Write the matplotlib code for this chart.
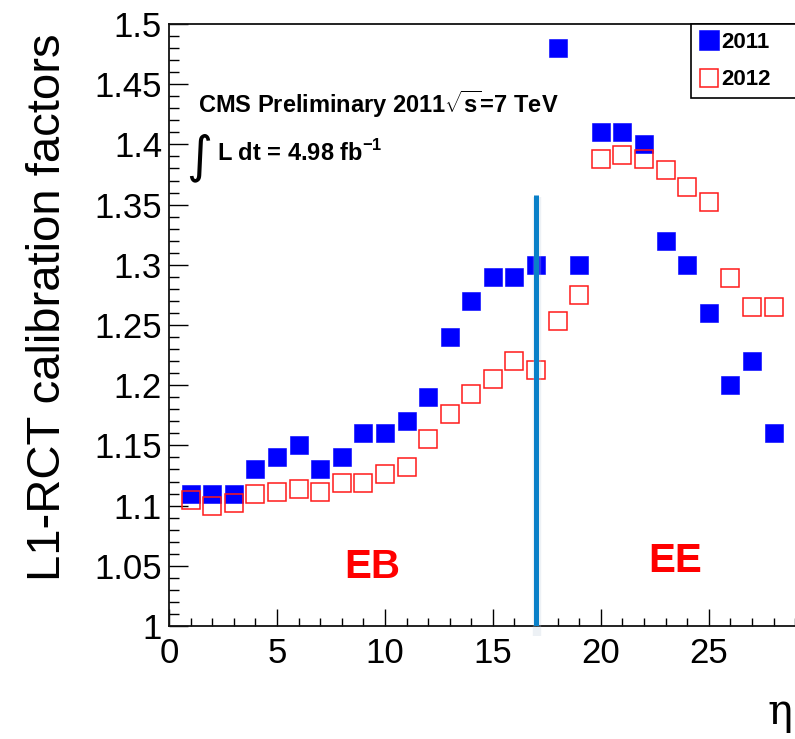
import matplotlib

matplotlib.use("Agg")

import matplotlib.pyplot as plt  # noqa: E402
from matplotlib.ticker import MultipleLocator, FormatStrFormatter  # noqa: E402

_W, _H, _DPI = 795, 739, 100
_BLUE = "#0000ff"
_RED = "#ff1a1a"
_LINE = "#0a80c8"

plt.rcParams["font.family"] = ["Liberation Sans", "DejaVu Sans"]
plt.rcParams["mathtext.fontset"] = "custom"
plt.rcParams["mathtext.rm"] = "Liberation Sans"
plt.rcParams["mathtext.bf"] = "Liberation Sans:bold"

# ieta bins
eta = list(range(1, 29))
calib_2011 = [1.11, 1.11, 1.11, 1.13, 1.14, 1.15, 1.13, 1.14, 1.16, 1.16,
              1.17, 1.19, 1.24, 1.27, 1.29, 1.29, 1.30, 1.48, 1.30, 1.41,
              1.41, 1.40, 1.32, 1.30, 1.26, 1.20, 1.22, 1.16]
calib_2012 = [1.105, 1.100, 1.102, 1.110, 1.111, 1.114, 1.111, 1.119, 1.119, 1.126,
              1.132, 1.155, 1.176, 1.193, 1.205, 1.220, 1.213, 1.253, 1.275, 1.388,
              1.391, 1.388, 1.379, 1.365, 1.352, 1.289, 1.265, 1.265]
eb_ee_boundary = 17
boundary_top = 1.358

fig = plt.figure(figsize=(_W / _DPI, _H / _DPI), dpi=_DPI)
ax = fig.add_axes([169 / _W, 113 / _H, 637 / _W, 602 / _H])

ax.plot(eta, calib_2011, ls="none", marker="s", ms=12.7, mfc=_BLUE, mec=_BLUE,
        mew=0.4, label="2011", zorder=3)
ax.plot(eta, calib_2012, ls="none", marker="s", ms=12.4, mfc="none", mec=_RED,
        mew=1.1, label="2012", zorder=4)

# EB / EE boundary with a faint shadow
ax.vlines(eb_ee_boundary + 0.06, 0.992, boundary_top - 0.002, colors="#b8c8d8",
          linewidth=6, alpha=0.25, zorder=4.5, clip_on=False)
ax.vlines(eb_ee_boundary, 1.0, boundary_top, colors=_LINE, linewidth=3.6,
          zorder=5)

ax.set_xlim(0, 29.5)
ax.set_ylim(1.0, 1.5)
ax.xaxis.set_major_locator(MultipleLocator(5))
ax.xaxis.set_minor_locator(MultipleLocator(1))
ax.yaxis.set_major_locator(MultipleLocator(0.05))
ax.yaxis.set_minor_locator(MultipleLocator(0.01))
ax.yaxis.set_major_formatter(FormatStrFormatter("%g"))

ax.tick_params(axis="both", which="both", direction="in", width=1.0,
               top=False, right=False, labelsize=25, colors="black")
ax.tick_params(axis="x", which="major", length=12, pad=8)
ax.tick_params(axis="x", which="minor", length=6)
ax.tick_params(axis="y", which="major", length=14, pad=5)
ax.tick_params(axis="y", which="minor", length=7)
for side in ax.spines.values():
    side.set_linewidth(1.3)
    side.set_color("#111111")

fig.text(48 / _W, 1 - 307 / _H, "L1-RCT calibration factors", rotation=90,
         ha="center", va="center", fontsize=34)
fig.text(792 / _W, 1 - 712 / _H, "η", ha="right", va="center", fontsize=30,
         family=["DejaVu Serif"])

fig.text(198 / _W, 1 - 104 / _H,
         r"CMS Preliminary 2011$\sqrt{\mathbf{s}}$=7 TeV",
         ha="left", va="center", fontsize=17, fontweight="bold")
fig.text(186 / _W, 1 - 158 / _H, "∫", ha="left", va="center", fontsize=36,
         family=["DejaVu Sans"])
fig.text(217 / _W, 1 - 153 / _H, r"L dt = 4.98 fb$^{\mathbf{-1}}$",
         ha="left", va="center", fontsize=17, fontweight="bold")

fig.text(372 / _W, 1 - 567 / _H, "EB", ha="center", va="center",
         fontsize=29, fontweight="bold", color="red")
fig.text(675 / _W, 1 - 561 / _H, "EE", ha="center", va="center",
         fontsize=29, fontweight="bold", color="red")

leg = ax.legend(loc="upper left",
                bbox_to_anchor=(691 / _W, 1 - 110 / _H, 0.3, 86 / _H),
                bbox_transform=fig.transFigure, mode="expand", borderaxespad=0,
                borderpad=0.35, handlelength=0.9, handletextpad=0.1,
                labelspacing=0.75, markerscale=1.08, fancybox=False,
                framealpha=1, edgecolor="black",
                prop={"weight": "bold", "size": 16})
leg.get_frame().set_linewidth(1.2)

fig.savefig("out.png", dpi=_DPI, facecolor="white")
